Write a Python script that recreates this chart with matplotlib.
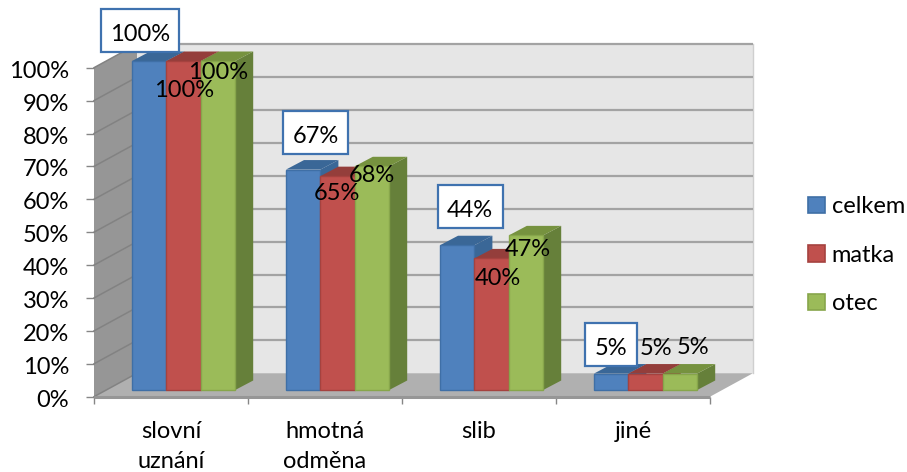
import matplotlib
matplotlib.use("Agg")
import matplotlib.pyplot as plt
from matplotlib.patches import Patch, Rectangle
from matplotlib.transforms import ScaledTranslation

plt.rcParams["font.family"] = ["Lato", "DejaVu Sans"]

# Chart data
categories = ["slovní\nuznání", "hmotná\nodměna", "slib", "jiné"]
series_names = ["celkem", "matka", "otec"]
celkem = [100, 67, 44, 5]
matka = [100, 65, 40, 5]
otec = [100, 68, 47, 5]
y_ticks = list(range(0, 101, 10))

# Style: front, top, side and edge shades per series
FRONT = ["#4F81BD", "#C0504D", "#9BBB59"]
TOP = ["#3A6797", "#943E3B", "#76923F"]
SIDE = ["#3A6797", "#943E3B", "#66803A"]
EDGE = ["#3F6FA6", "#A5423F", "#87A64B"]

# Pixel layout of the plot box (figure is 907x472 at dpi 100)
W, H = 907, 472
LEFT, RIGHT, BOTTOM, TOP_Y = 94, 710, 396.7, 67.7
PX_X = (RIGHT - LEFT) / 4      # pixels per category
PX_Y = (BOTTOM - TOP_Y) / 100  # pixels per percent


def ux(px):
    return px / PX_X


def uy(px):
    return px / PX_Y


WALL_DX, WALL_DY = ux(43), uy(23.5)
BAR_DX, BAR_DY = ux(18), uy(9.5)
BAR_START, BAR_W = ux(38), ux(34.4)
BAR_BASE = uy(6.7)
FONT = 17

fig = plt.figure(figsize=(W / 100, H / 100), dpi=100, facecolor="white")
ax = fig.add_axes([LEFT / W, 1 - BOTTOM / H, (RIGHT - LEFT) / W, (BOTTOM - TOP_Y) / H])
ax.set_xlim(0, 4)
ax.set_ylim(0, 100)
ax.patch.set_visible(False)

# Back wall, floor and side wall of the oblique box
ax.fill([WALL_DX, 4 + WALL_DX, 4 + WALL_DX, WALL_DX],
        [WALL_DY, WALL_DY, 100 + WALL_DY, 100 + WALL_DY],
        color="#E6E6E6", lw=0, clip_on=False, zorder=1)
ax.fill([0, 4, 4 + WALL_DX, WALL_DX], [0, 0, WALL_DY, WALL_DY],
        color="#B0B0B0", lw=0, clip_on=False, zorder=1)
ax.fill([0, WALL_DX, WALL_DX, 0], [0, WALL_DY, 100 + WALL_DY, 100],
        color="#969696", lw=0, clip_on=False, zorder=1)
ax.plot([4 + WALL_DX] * 2, [WALL_DY, 100 + WALL_DY], color="#CFCFCF", lw=1,
        clip_on=False, zorder=1.5)
for t in y_ticks:
    if t:
        ax.plot([WALL_DX, 4 + WALL_DX], [t + WALL_DY] * 2, color="#A3A3A3", lw=1.6,
                clip_on=False, zorder=2, solid_capstyle="butt")
    ax.plot([0, WALL_DX], [t, t + WALL_DY], color="#828282", lw=1.1,
            clip_on=False, zorder=2)
ax.plot([0, 4], [0, 0], color="#969696", lw=2.2, clip_on=False, zorder=2.5,
        solid_capstyle="butt")

# Bars, painted back to front within each group
for s, values in enumerate([celkem, matka, otec]):
    for c, v in enumerate(values):
        x0 = c + BAR_START + s * BAR_W
        x1 = x0 + BAR_W
        top = BAR_BASE + v
        zo = 3 + c + s * 0.1
        ax.fill([x1, x1 + BAR_DX, x1 + BAR_DX, x1],
                [BAR_BASE, BAR_BASE + BAR_DY, top + BAR_DY, top],
                color=SIDE[s], lw=0, clip_on=False, zorder=zo)
        ax.fill([x0, x1, x1 + BAR_DX, x0 + BAR_DX],
                [top, top, top + BAR_DY, top + BAR_DY],
                color=TOP[s], lw=0, clip_on=False, zorder=zo)
        ax.bar(x0, v, width=BAR_W, bottom=BAR_BASE, align="edge", color=FRONT[s],
               edgecolor=EDGE[s], linewidth=1.0, clip_on=False, zorder=zo + 0.01)

# Value labels as offsets in pixels from the top centre of each bar
OFFSETS = {
    0: [(-9, 29), (0, -27), (0, -9)],
    1: [(12.5, 35.5), (-1, -15), (0, -6.5)],
    2: [(13, 37), (6, -17.5), (2, -12)],
    3: [(0, 27.5), (10.5, 27.5), (13, 28.5)],
}
BOX_W = {1: 52, 2: 65, 3: 78}  # box width by number of digits
BOX_H = 43
TEXT_DROP = 2.5  # lowers the digits onto the visual centre of their position
for s, values in enumerate([celkem, matka, otec]):
    for c, v in enumerate(values):
        xc = c + BAR_START + (s + 0.5) * BAR_W
        yv = BAR_BASE + v
        ox, oy = OFFSETS[c][s]
        if s == 0:
            bw = BOX_W[len(str(v))]
            ax.add_patch(Rectangle((xc + ux(ox - bw / 2), yv + uy(oy + 1.5 - BOX_H / 2)),
                                   ux(bw), uy(BOX_H), fc="white", ec="#3F72AF", lw=1.6,
                                   clip_on=False, zorder=19))
        ax.annotate(f"{v}%", xy=(xc, yv), xytext=(ox, oy - TEXT_DROP),
                    textcoords="offset pixels", ha="center", va="center", fontsize=FONT,
                    color="black", zorder=20, annotation_clip=False)

# Axes furniture
for side in ["top", "right", "bottom", "left"]:
    ax.spines[side].set_visible(False)
ax.set_yticks(y_ticks)
ax.set_yticklabels([f"{t}%" for t in y_ticks], fontsize=FONT)
ax.tick_params(axis="y", length=5.8, width=1.0, color="#868686", pad=12)
label_shift = ScaledTranslation(0, -1.5 / 100, fig.dpi_scale_trans)
for label in ax.get_yticklabels():
    label.set_transform(label.get_transform() + label_shift)
ax.set_xticks(range(5))
ax.set_xticklabels([""] * 5)
ax.tick_params(axis="x", which="major", length=5.2, width=1.0, color="#868686")
ax.set_xticks([c + 0.5 for c in range(4)], minor=True)
ax.set_xticklabels(categories, minor=True, fontsize=FONT, linespacing=1.55)
ax.tick_params(axis="x", which="minor", length=0, pad=17.5)

# Legend on the right
handles = [Patch(facecolor=FRONT[i], edgecolor=EDGE[i], linewidth=1.2, label=series_names[i])
           for i in range(3)]
fig.legend(handles=handles, loc="upper left", frameon=False, fontsize=FONT,
           bbox_to_anchor=(799 / W, 1 - 187 / H), handlelength=0.68, handleheight=0.68,
           handletextpad=0.3, labelspacing=1.16, borderpad=0.4, borderaxespad=0)

fig.savefig("out.png", dpi=100, facecolor="white")
